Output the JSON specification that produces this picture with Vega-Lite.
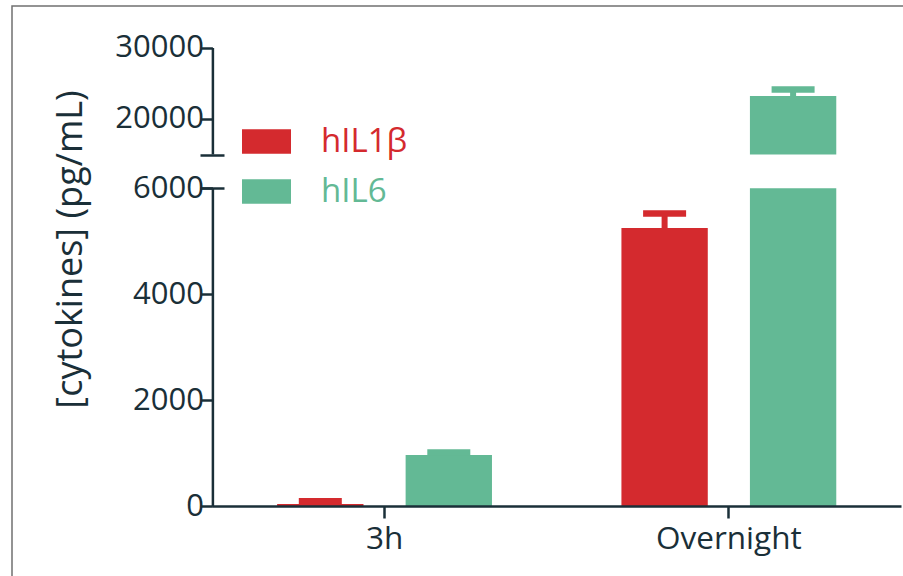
{
  "$schema": "https://vega.github.io/schema/vega-lite/v6.json",
  "autosize": {"type": "none"},
  "padding": {"left": 12, "top": 6, "right": 0, "bottom": 0},
  "width": 891,
  "height": 570,
  "background": "white",
  "config": {
    "view": {"stroke": null},
    "font": "Open Sans",
    "axis": {
      "labelFont": "Open Sans",
      "titleFont": "Open Sans",
      "labelColor": "#1a2f38",
      "titleColor": "#1a2f38",
      "domainColor": "#1a2f38",
      "tickColor": "#1a2f38",
      "grid": false,
      "domainWidth": 2.5,
      "tickWidth": 2.5,
      "domainCap": "butt"
    }
  },
  "datasets": {
    "bars": [
      {"time": "3h", "cytokine": "hIL1β", "mean": 40, "upper": 88},
      {"time": "3h", "cytokine": "hIL6", "mean": 965, "upper": 1010},
      {"time": "Overnight", "cytokine": "hIL1β", "mean": 5250, "upper": 5525},
      {"time": "Overnight", "cytokine": "hIL6", "mean": 23200, "upper": 24100}
    ],
    "gap": [{"from": 6000, "to": 15000}],
    "frame": [{"frame": 1}]
  },
  "resolve": {"scale": {"y": "shared"}, "axis": {"y": "independent"}},
  "layer": [
    {
      "data": {"name": "bars"},
      "mark": {"type": "bar"},
      "encoding": {
        "x": {
          "field": "time", "type": "nominal", "sort": ["3h", "Overnight"],
          "scale": {"range": [200.4, 889], "paddingInner": 0.376, "paddingOuter": 0.188},
          "axis": {"title": null, "labelAngle": 0, "labelFontSize": 31.5, "tickSize": 12, "labelPadding": 5, "offset": -70, "zindex": 1}
        },
        "xOffset": {
          "field": "cytokine", "type": "nominal", "sort": ["hIL1β", "hIL6"],
          "scale": {"paddingInner": 0.328, "paddingOuter": 0}
        },
        "y": {
          "field": "mean", "type": "quantitative",
          "scale": {"domain": [0, 6000, 15000, 30000], "range": [500, 182.3, 148.5, 41.5], "nice": false, "zero": false},
          "axis": {
            "orient": "left",
            "title": "[cytokines] (pg/mL)",
            "values": [0, 2000, 4000, 6000, 20000, 30000],
            "format": "d",
            "offset": -200.4,
            "domain": false,
            "tickSize": 12,
            "labelFontSize": 31,
            "labelPadding": -3,
            "titleFontSize": 36,
            "titleFontWeight": "normal",
            "titleX": -142,
            "titleY": 243,
            "titleAngle": 270,
            "titleAlign": "center",
            "titleBaseline": "middle",
            "zindex": 1
          }
        },
        "color": {
          "field": "cytokine", "type": "nominal",
          "scale": {"domain": ["hIL1β", "hIL6"], "range": ["#d42a2e", "#63b995"]},
          "legend": {
            "title": null,
            "orient": "none",
            "legendX": 230,
            "legendY": 111,
            "padding": 0,
            "symbolType": "M-1,-0.5H1V0.5H-1Z",
            "symbolSize": 2401,
            "symbolStrokeWidth": 0,
            "symbolOpacity": 1,
            "labelFont": "Open Sans",
            "labelFontSize": 33,
            "labelOffset": 30,
            "labelLimit": 300,
            "rowPadding": 8,
            "encode": {"labels": {"update": {"fill": {"scale": "color", "field": "value"}}}}
          }
        }
      }
    },
    {
      "data": {"name": "bars"},
      "mark": {"type": "rule", "strokeWidth": 6},
      "encoding": {
        "x": {"field": "time", "type": "nominal", "sort": ["3h", "Overnight"]},
        "xOffset": {"field": "cytokine", "type": "nominal", "sort": ["hIL1β", "hIL6"]},
        "y": {
          "field": "mean", "type": "quantitative",
          "axis": {"orient": "left", "offset": -200.4, "domain": true, "ticks": false, "labels": false, "title": null, "zindex": 0}
        },
        "y2": {"field": "upper"},
        "color": {"field": "cytokine", "type": "nominal"}
      }
    },
    {
      "data": {"name": "bars"},
      "mark": {"type": "tick", "thickness": 6.5, "size": 43, "opacity": 1},
      "encoding": {
        "x": {"field": "time", "type": "nominal", "sort": ["3h", "Overnight"]},
        "xOffset": {"field": "cytokine", "type": "nominal", "sort": ["hIL1β", "hIL6"]},
        "y": {"field": "upper", "type": "quantitative", "axis": null},
        "color": {"field": "cytokine", "type": "nominal"}
      }
    },
    {
      "data": {"name": "gap"},
      "mark": {"type": "rect", "color": "white"},
      "encoding": {
        "y": {
          "field": "from", "type": "quantitative",
          "axis": {"orient": "left", "values": [6000, 15000], "offset": -212, "tickSize": 24, "domain": false, "labels": false, "title": null, "zindex": 1}
        },
        "y2": {"field": "to"}
      }
    },
    {
      "data": {"name": "frame"},
      "mark": {"type": "rect", "filled": false, "color": "#707070", "strokeWidth": 1.5, "strokeDash": [891, 1461, 570, 50]},
      "encoding": {}
    }
  ]
}
